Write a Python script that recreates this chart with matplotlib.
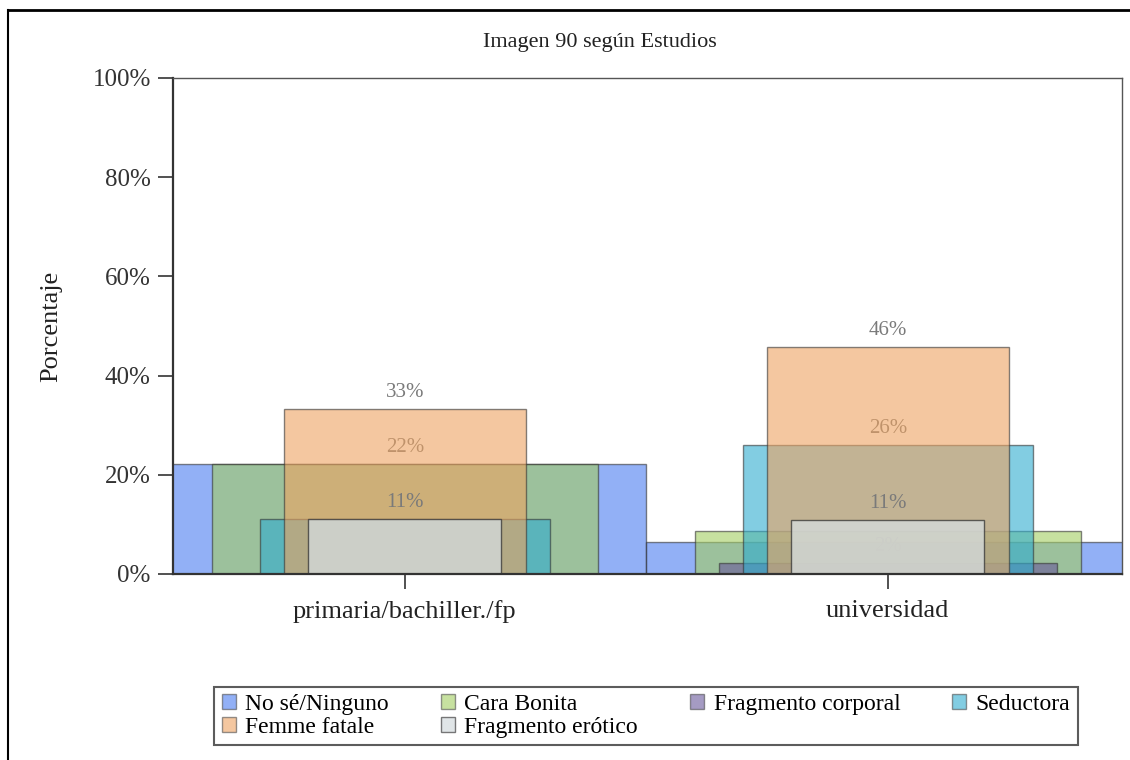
import matplotlib
matplotlib.use("Agg")
import matplotlib.pyplot as plt
from matplotlib.lines import Line2D
from matplotlib.patches import Patch
import numpy as np

plt.rcParams['font.family'] = ['Liberation Serif', 'DejaVu Serif']

categories = ["primaria/bachiller./fp", "universidad"]
series_names = ["No sé/Ninguno", "Cara Bonita", "Fragmento corporal",
                "Seductora", "Femme fatale", "Fragmento erótico"]
no_se = [22.2, 6.5]
cara_bonita = [22.2, 8.7]
frag_corporal = [0.0, 2.2]
seductora = [11.1, 26.1]
femme_fatale = [33.3, 45.7]
frag_erotico = [11.1, 10.9]
yticks = [0, 20, 40, 60, 80, 100]

series_values = [no_se, cara_bonita, frag_corporal, seductora, femme_fatale, frag_erotico]
widths = [1.0, 0.8, 0.7, 0.6, 0.5, 0.4]
colors = ['#4a7cf0', '#a3cd61', '#69589b', '#2facd0', '#eea361', '#d6dde0']
alphas = [0.6, 0.6, 0.6, 0.6, 0.6, 0.75]

fig = plt.figure(figsize=(11.3, 7.6), dpi=100)
W, H = 1130, 760
ax = fig.add_axes([173 / W, 1 - 574 / H, (1122 - 173) / W, (574 - 78) / H])

x = np.arange(len(categories))
n = len(series_values)
z = 2
for k, (name, vals, w, c, a) in enumerate(zip(series_names, series_values, widths, colors, alphas)):
    ax.bar(x, vals, width=w, color=c, alpha=a, edgecolor=(0.2, 0.2, 0.2, 0.8),
           linewidth=1.0, zorder=z, label=name)
    for i, (xi, v) in enumerate(zip(x, vals)):
        if v <= 0:
            continue
        # label hidden when a later (narrower, on top) bar ends at almost the same height
        hidden = any(abs(series_values[j][i] - v) < 4 for j in range(k + 1, n))
        if hidden:
            continue
        ax.annotate(f"{round(v)}%", (xi, v), xytext=(0, 5), textcoords='offset points',
                    ha='center', va='bottom', fontsize=15, color='#7a7a7a', zorder=z + 0.5)
    z += 1

ax.set_xlim(-0.48, 1.485)
ax.set_ylim(0, 100)
ax.set_yticks(yticks)
ax.set_yticklabels([f"{t}%" for t in yticks], fontsize=18, color='#333333')
ax.set_xticks(x)
ax.set_xticklabels(categories, fontsize=19, color='#222222')
ax.tick_params(axis='y', length=11, width=1.2, color='#333333', pad=5)
ax.tick_params(axis='x', length=11, width=1.2, color='#333333', pad=8)
for s in ['left', 'bottom']:
    ax.spines[s].set_linewidth(1.6)
    ax.spines[s].set_color('#333333')
for s in ['top', 'right']:
    ax.spines[s].set_linewidth(1.0)
    ax.spines[s].set_color('#555555')
ax.spines['bottom'].set_zorder(20)
ax.set_ylabel("Porcentaje", fontsize=19, color='#222222', labelpad=22)

fig.text(600 / W, 1 - 42 / H, "Imagen 90 según Estudios", ha='center', va='center',
         fontsize=16, color='#222222')

# legend
handles = [Patch(facecolor=c, alpha=a, edgecolor=(0.3, 0.3, 0.3)) for c, a in zip(colors, alphas)]
order = [0, 4, 1, 5, 2, 3]
leg = fig.legend([handles[i] for i in order], [series_names[i] for i in order],
                 ncol=4, loc='center', bbox_to_anchor=(646 / W, 1 - 716 / H),
                 fontsize=17, frameon=True, fancybox=False, edgecolor='#333333',
                 handlelength=0.6, handleheight=0.6, handletextpad=0.4,
                 columnspacing=2.2, labelspacing=0.1, borderpad=0.3)
leg.get_frame().set_linewidth(1.5)

# figure frame (top and left)
fig.add_artist(Line2D([8 / W, 1.0], [1 - 10 / H, 1 - 10 / H], transform=fig.transFigure,
                      color='black', linewidth=2.0))
fig.add_artist(Line2D([8 / W, 8 / W], [0.0, 1 - 10 / H], transform=fig.transFigure,
                      color='black', linewidth=1.5))

fig.savefig("out.png", dpi=100)
